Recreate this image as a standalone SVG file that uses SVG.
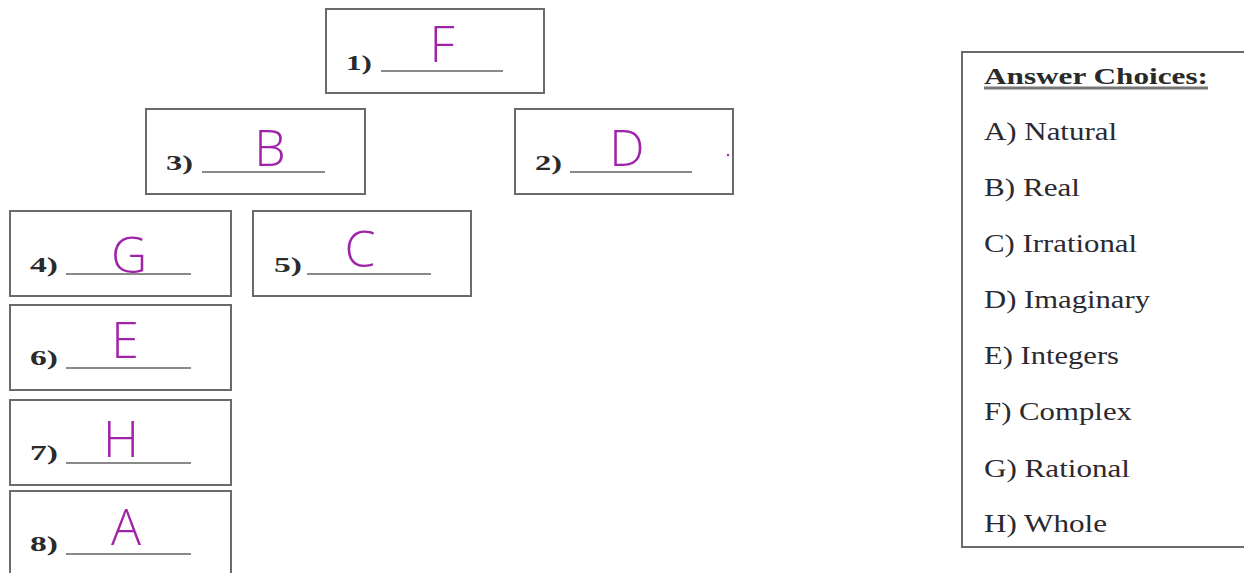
<svg xmlns="http://www.w3.org/2000/svg" width="1244" height="573" viewBox="0 0 1244 573">
<style>
.box{fill:#fff;stroke:#6a6a6a;stroke-width:2}
.num{font-family:"Liberation Serif",serif;font-weight:bold;font-size:22px;fill:#2a2a2a}
.line{stroke:#8a8a8a;stroke-width:2}
.hw{font-family:"Open Sans","DejaVu Sans",sans-serif;font-weight:300;font-size:50px;fill:#a024a8;text-anchor:middle}
.ch{font-family:"Liberation Serif",serif;font-size:25px;fill:#2a2a30}
.hd{font-family:"Liberation Serif",serif;font-weight:bold;font-size:23px;fill:#2a2a2a}
</style>
<rect width="1244" height="573" fill="#fff"/>
<g id="n1"><rect class="box" x="326" y="9" width="218" height="84"/><text class="num" x="346" y="70" textLength="26" lengthAdjust="spacingAndGlyphs">1)</text><line class="line" x1="381" y1="71" x2="503" y2="71"/><text class="hw" x="442" y="62">F</text></g>
<g id="n3"><rect class="box" x="146" y="109" width="219" height="85"/><text class="num" x="166" y="170" textLength="27" lengthAdjust="spacingAndGlyphs">3)</text><line class="line" x1="202" y1="172" x2="325" y2="172"/><text class="hw" x="270" y="166">B</text></g>
<g id="n2"><rect class="box" x="515" y="109" width="218" height="85"/><text class="num" x="535" y="170" textLength="27" lengthAdjust="spacingAndGlyphs">2)</text><line class="line" x1="570" y1="172" x2="692" y2="172"/><text class="hw" x="627" y="166">D</text><circle cx="728" cy="155" r="1.2" fill="#a024a8"/></g>
<g id="n4"><rect class="box" x="10" y="211" width="221" height="85"/><text class="num" x="30" y="272" textLength="28" lengthAdjust="spacingAndGlyphs">4)</text><line class="line" x1="66" y1="274" x2="191" y2="274"/><text class="hw" x="129" y="273">G</text></g>
<g id="n5"><rect class="box" x="253" y="211" width="218" height="85"/><text class="num" x="274" y="272" textLength="28" lengthAdjust="spacingAndGlyphs">5)</text><line class="line" x1="307" y1="274" x2="431" y2="274"/><text class="hw" x="360" y="267">C</text></g>
<g id="n6"><rect class="box" x="10" y="305" width="221" height="85"/><text class="num" x="30" y="365" textLength="28" lengthAdjust="spacingAndGlyphs">6)</text><line class="line" x1="66" y1="368" x2="191" y2="368"/><text class="hw" x="125" y="358">E</text></g>
<g id="n7"><rect class="box" x="10" y="400" width="221" height="85"/><text class="num" x="30" y="460" textLength="28" lengthAdjust="spacingAndGlyphs">7)</text><line class="line" x1="66" y1="463" x2="191" y2="463"/><text class="hw" x="121" y="457">H</text></g>
<g id="n8"><rect class="box" x="10" y="491" width="221" height="90"/><text class="num" x="30" y="551" textLength="28" lengthAdjust="spacingAndGlyphs">8)</text><line class="line" x1="66" y1="554" x2="191" y2="554"/><text class="hw" x="126" y="545">A</text></g>
<g id="connectors"></g>
<g id="choices"><rect class="box" x="962" y="52" width="290" height="495"/>
<text class="hd" x="984" y="84" textLength="224" lengthAdjust="spacingAndGlyphs">Answer Choices:</text>
<line x1="984" y1="88" x2="1208" y2="88" stroke="#777" stroke-width="3"/>
<text class="ch" x="984" y="140" textLength="133" lengthAdjust="spacingAndGlyphs">A) Natural</text>
<text class="ch" x="984" y="196" textLength="96" lengthAdjust="spacingAndGlyphs">B) Real</text>
<text class="ch" x="984" y="252" textLength="153" lengthAdjust="spacingAndGlyphs">C) Irrational</text>
<text class="ch" x="984" y="308" textLength="166" lengthAdjust="spacingAndGlyphs">D) Imaginary</text>
<text class="ch" x="984" y="364" textLength="135" lengthAdjust="spacingAndGlyphs">E) Integers</text>
<text class="ch" x="984" y="420" textLength="148" lengthAdjust="spacingAndGlyphs">F) Complex</text>
<text class="ch" x="984" y="477" textLength="146" lengthAdjust="spacingAndGlyphs">G) Rational</text>
<text class="ch" x="984" y="532" textLength="123" lengthAdjust="spacingAndGlyphs">H) Whole</text>
</g>
</svg>
